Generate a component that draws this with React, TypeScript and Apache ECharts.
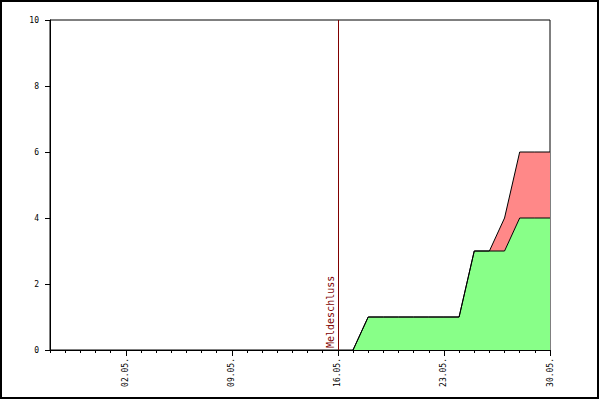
import React, { useEffect, useRef } from "react";
import * as echarts from "echarts";

const dates = [
  "27.04.", "28.04.", "29.04.", "30.04.", "01.05.", "02.05.", "03.05.", "04.05.", "05.05.", "06.05.",
  "07.05.", "08.05.", "09.05.", "10.05.", "11.05.", "12.05.", "13.05.", "14.05.", "15.05.", "16.05.",
  "17.05.", "18.05.", "19.05.", "20.05.", "21.05.", "22.05.", "23.05.", "24.05.", "25.05.", "26.05.",
  "27.05.", "28.05.", "29.05.", "30.05.",
];
const labeledDates = ["02.05.", "09.05.", "16.05.", "23.05.", "30.05."];
const greenValues: (number | string)[] = [
  "-", "-", "-", "-", "-", "-", "-", "-", "-", "-",
  "-", "-", "-", "-", "-", "-", "-", "-", "-", "-",
  0, 1, 1, 1, 1, 1, 1, 1, 3, 3,
  3, 4, 4, 4,
];
const redValues: (number | string)[] = [
  "-", "-", "-", "-", "-", "-", "-", "-", "-", "-",
  "-", "-", "-", "-", "-", "-", "-", "-", "-", "-",
  0, 0, 0, 0, 0, 0, 0, 0, 0, 0,
  1, 2, 2, 2,
];
const deadline = "16.05.";
const deadlineLabel = "Meldeschluss";

const FONT = "'DejaVu Sans Mono', monospace";

export default function App() {
  const ref = useRef<HTMLDivElement>(null);
  useEffect(() => {
    document.body.style.margin = "0";
    const chart = echarts.init(ref.current!, null, { renderer: "svg" });
    const isLabeled = (i: number) => labeledDates.includes(dates[i]);
    chart.setOption({
      animation: false,
      backgroundColor: "#fff",
      grid: {
        left: 50, right: 50, top: 20, bottom: 50,
        show: true, borderColor: "#000", borderWidth: 1, backgroundColor: "transparent",
      },
      graphic: [
        {
          type: "rect",
          shape: { x: 1, y: 1, width: 597, height: 397 },
          style: { fill: "none", stroke: "#000", lineWidth: 2 },
          silent: true,
        },
      ],
      xAxis: [
        {
          type: "category",
          data: dates,
          boundaryGap: false,
          axisLine: { show: true, lineStyle: { color: "#000", width: 1 } },
          axisTick: { show: true, interval: 0, length: 3, lineStyle: { color: "#000" } },
          axisLabel: { show: false },
          splitLine: { show: false },
        },
        {
          type: "category",
          data: dates,
          boundaryGap: false,
          position: "bottom",
          axisLine: { show: false },
          axisTick: {
            show: true,
            interval: (i: number) => isLabeled(i),
            length: 6,
            lineStyle: { color: "#000" },
          },
          axisLabel: {
            show: true,
            interval: (i: number) => isLabeled(i),
            rotate: 90,
            margin: 8,
            fontFamily: FONT,
            fontSize: 8,
            color: "#000",
          },
          splitLine: { show: false },
        },
      ],
      yAxis: {
        type: "value",
        min: 0,
        max: 10,
        interval: 2,
        axisLine: { show: true, lineStyle: { color: "#000", width: 1 } },
        axisTick: { show: true, length: 5, lineStyle: { color: "#000" } },
        axisLabel: { fontFamily: FONT, fontSize: 8, color: "#000", margin: 11 },
        splitLine: { show: false },
      },
      series: [
        {
          type: "line",
          xAxisIndex: 0,
          stack: "total",
          data: greenValues,
          symbol: "none",
          lineStyle: { color: "#000", width: 1 },
          areaStyle: { color: "#88ff88", opacity: 1 },
          markLine: {
            silent: true,
            symbol: "none",
            lineStyle: { color: "#800000", width: 1, type: "solid" },
            label: {
              show: true,
              formatter: deadlineLabel,
              position: "insideStartTop",
              color: "#800000",
              fontFamily: FONT,
              fontSize: 10,
              distance: 2,
            },
            data: [{ xAxis: deadline }],
          },
        },
        {
          type: "line",
          xAxisIndex: 0,
          stack: "total",
          data: redValues,
          symbol: "none",
          lineStyle: { color: "#000", width: 1 },
          areaStyle: { color: "#ff8888", opacity: 1 },
        },
      ],
    });
    return () => chart.dispose();
  }, []);
  return <div ref={ref} style={{ width: 600, height: 400 }} />;
}
